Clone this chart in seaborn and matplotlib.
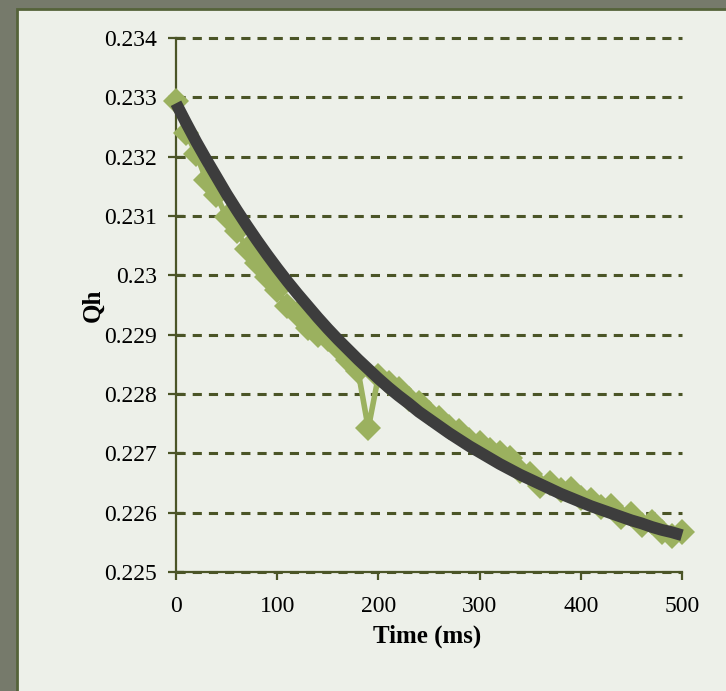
import matplotlib
matplotlib.use("Agg")
import matplotlib.pyplot as plt
from matplotlib.patches import Rectangle
import seaborn as sns
import pandas as pd

# Time axis (ms) and measured Qh
time_ms = [0, 10, 20, 30, 40, 50, 60, 70, 80, 90,
           100, 110, 120, 130, 140, 150, 160, 170, 180, 190,
           200, 210, 220, 230, 240, 250, 260, 270, 280, 290,
           300, 310, 320, 330, 340, 350, 360, 370, 380, 390,
           400, 410, 420, 430, 440, 450, 460, 470, 480, 490, 500]

qh = [0.23293, 0.23240, 0.23205, 0.23160, 0.23135, 0.23098, 0.23075, 0.23045, 0.23020, 0.22998,
      0.22975, 0.22948, 0.22935, 0.22912, 0.22900, 0.22892, 0.22878, 0.22858, 0.22838, 0.22742,
      0.22830, 0.22818, 0.22808, 0.22792, 0.22785, 0.22768, 0.22760, 0.22745, 0.22738, 0.22722,
      0.22718, 0.22705, 0.22700, 0.22692, 0.22670, 0.22665, 0.22645, 0.22650, 0.22638, 0.22640,
      0.22625, 0.22622, 0.22610, 0.22612, 0.22592, 0.22598, 0.22580, 0.22585, 0.22568, 0.22560,
      0.22568]

# Trend line
qh_fit = [0.23290, 0.23257, 0.23225, 0.23195, 0.23166, 0.23137, 0.23110, 0.23084, 0.23059, 0.23035,
          0.23012, 0.22990, 0.22969, 0.22949, 0.22929, 0.22910, 0.22892, 0.22875, 0.22858, 0.22842,
          0.22826, 0.22811, 0.22797, 0.22784, 0.22770, 0.22758, 0.22746, 0.22734, 0.22723, 0.22712,
          0.22702, 0.22692, 0.22682, 0.22673, 0.22664, 0.22656, 0.22648, 0.22640, 0.22632, 0.22625,
          0.22618, 0.22611, 0.22605, 0.22599, 0.22593, 0.22587, 0.22582, 0.22576, 0.22571, 0.22567,
          0.22562]

y_ticks = [0.225, 0.226, 0.227, 0.228, 0.229, 0.23, 0.231, 0.232, 0.233, 0.234]
y_labels = ["0.225", "0.226", "0.227", "0.228", "0.229", "0.23", "0.231", "0.232", "0.233", "0.234"]
x_ticks = [0, 100, 200, 300, 400, 500]

df = pd.DataFrame({"time": time_ms, "qh": qh, "fit": qh_fit})

sns.set_theme(style="ticks")
plt.rcParams["font.family"] = ["Liberation Serif", "DejaVu Serif"]

olive = "#4b5527"
green = "#9bb15f"
panel = "#edf0e9"

fig = plt.figure(figsize=(7.26, 6.91), dpi=100)
fig.patch.set_facecolor("#767a6b")
fig.patches.append(Rectangle((17 / 726, -0.01), 1 - 17 / 726 + 0.01, 1 - 9 / 691 + 0.01,
                             transform=fig.transFigure, facecolor=panel,
                             edgecolor="#55633a", linewidth=2, zorder=-5))

ax = fig.add_axes([176 / 726, 119 / 691, 506 / 726, 534 / 691])
ax.set_facecolor("none")

sns.lineplot(data=df, x="time", y="qh", ax=ax, color=green, linewidth=4,
             marker="D", markersize=13, markeredgewidth=0, clip_on=False, zorder=3)
sns.lineplot(data=df, x="time", y="fit", ax=ax, color="#3d3d3d", linewidth=8.5,
             solid_capstyle="butt", clip_on=False, zorder=4)

ax.set_xlim(0, 500)
ax.set_ylim(0.225, 0.234)
ax.set_xticks(x_ticks)
ax.set_yticks(y_ticks)
ax.set_yticklabels(y_labels)

ax.yaxis.grid(True, color=olive, linestyle=(0, (3, 2.3)), linewidth=2.2)
for gl in ax.get_ygridlines():
    gl.set_clip_on(False)
ax.set_axisbelow(True)

sns.despine(ax=ax)
for side in ["left", "bottom"]:
    ax.spines[side].set_color(olive)
    ax.spines[side].set_linewidth(1.6)

ax.tick_params(axis="y", direction="inout", length=11, width=1.6, color=olive,
               labelsize=17, pad=8, labelcolor="black")
ax.tick_params(axis="x", direction="out", length=6, width=1.6, color=olive,
               labelsize=17, pad=11, labelcolor="black")

ax.set_xlabel("Time (ms)", fontsize=18, fontweight="bold", color="black")
ax.set_ylabel("Qh", fontsize=18, fontweight="bold", color="black")
ax.xaxis.set_label_coords(0.496, -0.098)
ax.yaxis.set_label_coords(-0.142, 0.5)

fig.savefig("out.png", dpi=100, facecolor=fig.get_facecolor())
